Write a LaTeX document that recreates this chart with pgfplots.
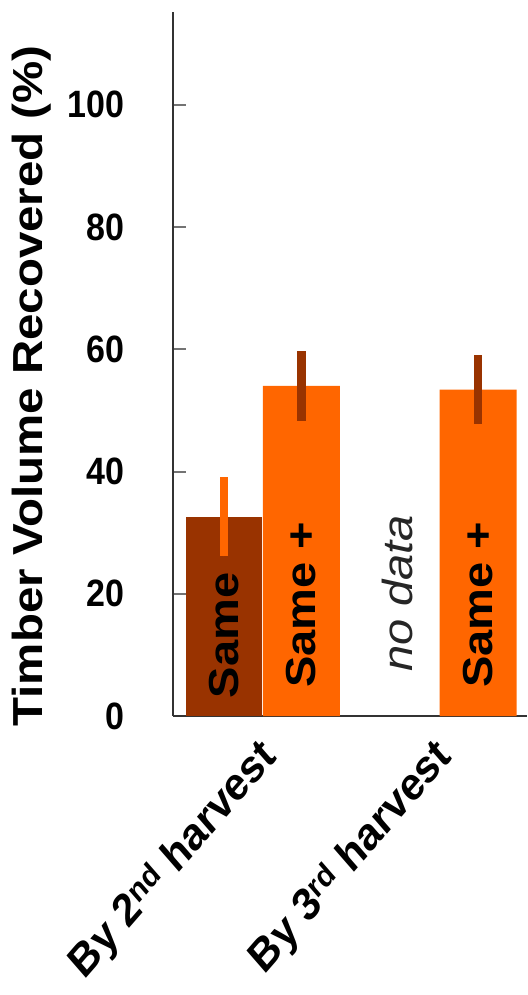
\documentclass[border=0pt]{standalone}
\usepackage{fontspec}
\setmainfont{Liberation Sans}
\usepackage{pgfplots}
\pgfplotsset{compat=1.18}
\definecolor{darkbr}{HTML}{993300}
\definecolor{orng}{HTML}{FF6600}
\begin{document}
\begin{tikzpicture}
\begin{axis}[
  scale only axis, width=354pt, height=704pt,
  xmin=0.338, xmax=4.935, ymin=0, ymax=115.2,
  axis x line=bottom, axis y line=left,
  axis line style={-, line width=1.6pt, color=black!80},
  ytick={0,20,40,60,80,100},
  ytick style={line width=2pt, color=black!55},
  tick align=inside, major tick length=13pt,
  xtick={1.5,3.775},
  xticklabels={By 2\textsuperscript{nd} harvest, By 3\textsuperscript{rd} harvest},
  xtick style={draw=none},
  /pgf/number format/assume math mode=true,
  yticklabel style={font=\fontsize{34}{40}\selectfont\bfseries, yscale=1.12, xshift=-45pt},
  xticklabel style={xshift=8pt, yshift=-34pt, font=\fontsize{40}{48}\selectfont\bfseries, yscale=1.15, rotate=45, anchor=east, inner sep=0pt},
  clip=false,
  error bars/error mark=none,
]
\addplot[ybar, bar width=0.99, bar shift=0pt, fill=darkbr, draw=none,
  error bars/.cd, y dir=both, y explicit, error bar style={line width=8.5pt, color=orng}]
  coordinates {(1,32.6) +- (0,6.5)};
\addplot[ybar, bar width=1.0, bar shift=0pt, fill=orng, draw=none,
  error bars/.cd, y dir=both, y explicit, error bar style={line width=8.5pt, color=darkbr}]
  coordinates {(2.005,54.0) +- (0,5.7) (4.30,53.4) +- (0,5.65)};
\node[rotate=90, xscale=1.12, anchor=west, inner sep=0pt, font=\fontsize{42}{50}\selectfont\bfseries] at (axis cs:1,2.9) {Same};
\node[rotate=90, xscale=1.12, anchor=west, inner sep=0pt, font=\fontsize{42}{50}\selectfont\bfseries] at (axis cs:2.005,4.6) {Same +};
\node[rotate=90, xscale=1.12, anchor=west, inner sep=0pt, font=\fontsize{42}{50}\selectfont\bfseries] at (axis cs:4.30,4.6) {Same +};
\node[rotate=90, xscale=1.12, anchor=west, inner sep=0pt, font=\fontsize{42}{50}\selectfont\itshape, color=black!85] at (axis cs:3.25,7.2) {no data};
\node[rotate=90, xscale=1.13, anchor=center, inner sep=0pt, font=\fontsize{42}{50}\selectfont\bfseries] at (axis description cs:-0.398,0.469) {Timber Volume Recovered (\%)};
\coordinate (O) at (rel axis cs:0,0);
\end{axis}
\pgfresetboundingbox
\path[use as bounding box] (O) ++(-173pt,-279pt) rectangle ++(527pt,995pt);
\end{tikzpicture}
\end{document}
